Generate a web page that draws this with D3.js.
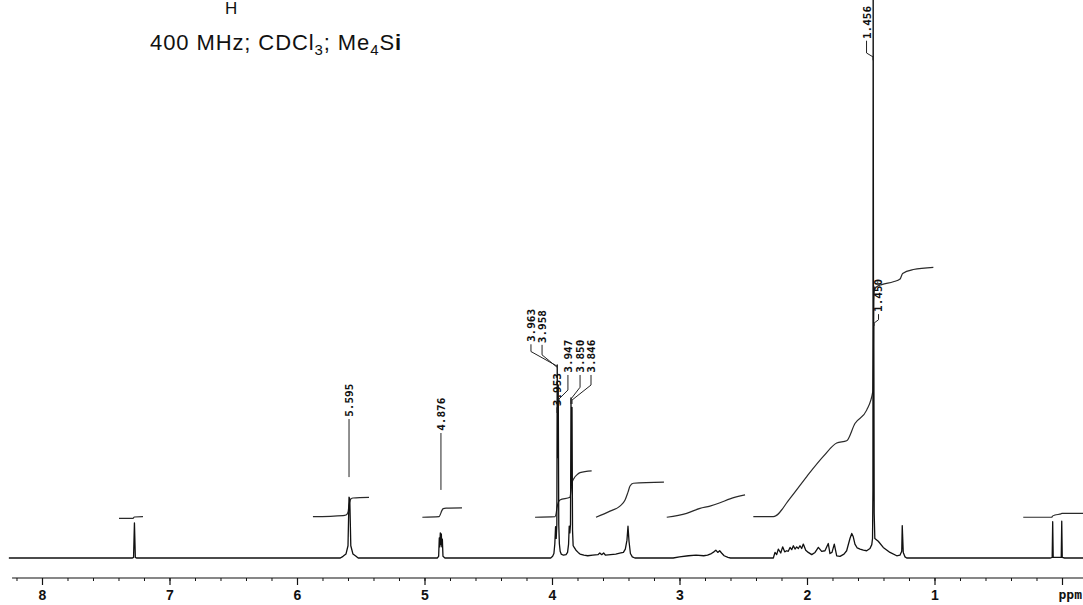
<!DOCTYPE html>
<html>
<head>
<meta charset="utf-8">
<script src="https://cdn.jsdelivr.net/npm/d3@7"></script>
<style>
  html, body { margin: 0; padding: 0; background: #fff; }
  svg { display: block; }
</style>
</head>
<body>
<svg id="chart" width="1083" height="605"></svg>
<script>
// spectrum, [ppm, intensity]
var spectrum = [
  [8.26,0],[7.29,0],[7.282,0.1],[7.275,6.3],[7.268,0.1],[7.26,0],
  [5.66,0],[5.639,0.3],[5.616,0.7],[5.600,2.2],[5.592,10.9],[5.586,10.6],[5.578,2.2],[5.561,0.7],[5.537,0.3],[5.52,0],
  [4.90,0],[4.889,0.3],[4.884,3.6],[4.880,2.0],[4.876,4.5],[4.872,2.4],[4.868,4.3],[4.864,2.0],[4.860,3.4],[4.855,0.3],[4.84,0],
  [4.01,0],[3.995,0.3],[3.985,0.8],[3.978,2.5],[3.972,5.6],[3.967,3.5],[3.962,6],[3.959,34.6],[3.955,18],[3.951,31],[3.947,6],
  [3.942,2.5],[3.936,1.2],[3.928,0.7],[3.91,0.5],[3.89,0.6],[3.878,1.0],[3.870,2.5],[3.865,5.7],[3.860,4.5],[3.855,6],
  [3.851,28.7],[3.847,13],[3.843,27],[3.839,5],[3.834,2.2],[3.826,1.9],[3.812,1.4],[3.795,1.0],[3.78,0.7],[3.75,0.5],[3.72,0.4],
  [3.68,0.5],[3.64,0.6],[3.625,0.9],[3.61,0.6],[3.595,0.9],[3.58,0.5],[3.54,0.6],[3.50,0.7],[3.46,0.9],[3.44,1.0],
  [3.425,1.6],[3.412,3.2],[3.404,5.7],[3.396,3.0],[3.385,0.8],[3.37,0.2],[3.35,0],
  [3.05,0],[3.0,0.2],[2.93,0.4],[2.87,0.5],[2.81,0.4],[2.78,0.5],[2.75,0.8],[2.73,1.1],[2.715,1.4],[2.70,1.0],[2.685,1.3],
  [2.67,0.9],[2.65,0.4],[2.62,0.1],[2.60,0],
  [2.264,0],[2.251,1.0],[2.238,0.6],[2.225,1.6],[2.206,0.9],[2.191,2.0],[2.175,1.1],[2.159,1.3],[2.147,1.2],[2.133,1.9],
  [2.120,1.5],[2.107,2.2],[2.094,1.6],[2.081,2.0],[2.068,1.7],[2.055,2.2],[2.042,1.7],[2.029,2.5],[2.010,1.4],[1.990,1.0],
  [1.963,0.6],[1.937,1.0],[1.911,1.9],[1.885,1.2],[1.859,1.3],[1.833,2.6],[1.820,0.8],[1.804,1.0],[1.786,2.5],[1.767,0.4],
  [1.741,0.3],[1.710,0.7],[1.689,1.3],[1.663,3.5],[1.649,4.4],[1.637,3.8],[1.624,2.5],[1.606,1.8],[1.584,1.6],[1.558,1.4],
  [1.532,1.3],[1.506,1.7],[1.492,2.4],[1.486,3.5],[1.483,12],[1.481,110],[1.478,30],[1.476,42],[1.473,8],[1.468,3.5],
  [1.441,3.0],[1.402,1.9],[1.349,1.0],[1.296,0.4],[1.271,0.5],[1.257,1.2],[1.253,5.8],[1.245,1.0],[1.231,0.2],[1.218,0],
  [0.09,0],[0.077,0.1],[0.073,6.5],[0.069,0.1],[0.006,0.1],[0.002,6.6],[-0.002,0.1],[-0.02,0],[-0.17,0]
];

// integral traces, [ppm, level]
var integralChcl3 = [[7.396,7.1],[7.286,7.1],[7.276,7.35],[7.208,7.4]];
var integral559 = [[5.875,7.4],[5.639,7.6],[5.616,7.7],[5.600,8.2],[5.592,9.5],[5.584,10.3],[5.576,10.6],[5.561,10.75],[5.435,10.85]];
var integral487 = [[5.017,7.3],[4.886,7.4],[4.876,7.8],[4.866,8.4],[4.853,8.85],[4.831,8.95],[4.706,9.0]];
var integral390 = [[4.133,7.3],[3.976,7.4],[3.968,7.9],[3.961,9.0],[3.950,10.0],[3.938,10.4],[3.859,10.9],[3.851,12.0],
  [3.843,13.4],[3.827,14.3],[3.805,14.9],[3.780,15.3],[3.689,15.6]];
var integral340 = [[3.655,7.3],[3.545,8.4],[3.467,9.3],[3.427,10.4],[3.404,11.8],[3.388,12.9],[3.362,13.4],[3.122,13.6]];
var integral270 = [[3.100,7.3],[2.944,8.0],[2.839,8.9],[2.761,9.3],[2.682,9.9],[2.604,10.6],[2.486,11.3]];
var integral145 = [[2.421,7.4],[2.264,7.4],[2.133,10.7],[2.002,14.6],[1.872,18.2],[1.767,20.6],[1.689,21.0],[1.624,24.1],
  [1.532,26.5],[1.484,29.8],[1.480,36],[1.476,46],[1.470,48.2],[1.453,48.6],[1.414,49.0],[1.323,49.5],[1.270,50.0],
  [1.250,51.0],[1.166,51.7],[1.009,52.1]];
var integralTms = [[0.304,7.3],[0.081,7.3],[0.074,7.5],[0.055,7.7],[0.008,7.9],[0.002,8.0],[-0.165,8.0]];

// peak labels: first point is the foot of the rotated text, the rest is the leader
var peakLabels = [
  { text: "5.595", path: [[5.592,25.3],[5.592,24.9],[5.592,14.5]] },
  { text: "4.876", path: [[4.871,22.8],[4.871,22.4],[4.871,12.2]] },
  { text: "3.963", path: [[4.165,38.7],[4.165,38.3],[4.165,37.0],[3.961,34.4]] },
  { text: "3.958", path: [[4.078,38.5],[4.078,38.2],[4.078,36.4],[3.961,34.2]] },
  { text: "3.953", path: [[3.961,27.2],[3.961,27.0],[3.961,26.0]] },
  { text: "3.947", path: [[3.875,33.2],[3.875,32.8],[3.875,30.1],[3.945,28.5],[3.945,27.6]] },
  { text: "3.850", path: [[3.780,33.2],[3.780,32.8],[3.780,30.6],[3.851,28.5],[3.851,27.6]] },
  { text: "3.846", path: [[3.694,33.2],[3.694,32.8],[3.694,31.0],[3.843,28.3],[3.843,27.6]] },
  { text: "1.456", path: [[1.533,93.0],[1.533,92.7],[1.533,90.5],[1.482,89.8],[1.482,89.2]] },
  { text: "1.450", path: [[1.439,44.1],[1.439,43.7],[1.439,42.7],[1.474,42.1],[1.474,41.6]] }
];

var majorTicks = [8, 7, 6, 5, 4, 3, 2, 1, 0];
var tickLabels = ["8", "7", "6", "5", "4", "3", "2", "1", "ppm"];
var minorTicks = d3.range(41).map(function (i) { return +(8.2 - i * 0.2).toFixed(1); });

var svg = d3.select("#chart");

var x = d3.scaleLinear().domain([8.32941, -0.16471]).range([0, 1083]);
var y = d3.scaleLinear().domain([0, 100]).range([558, 0]);

var line = d3.line()
  .x(function (d) { return x(d[0]); })
  .y(function (d) { return y(d[1]); });

// title
var title = svg.append("g")
  .style("font-family", "'Liberation Sans', Arial, sans-serif")
  .attr("fill", "#111");

title.append("text")
  .attr("x", 225).attr("y", 14)
  .style("font-size", "17px")
  .text("H");

var sub = title.append("text")
  .attr("x", 150).attr("y", 50)
  .style("font-size", "22px")
  .style("letter-spacing", "0.9px");
sub.append("tspan").text("400 MHz; CDCl");
sub.append("tspan").attr("dy", 5).style("font-size", "15px").text("3");
sub.append("tspan").attr("dy", -5).text("; Me");
sub.append("tspan").attr("dy", 5).style("font-size", "15px").text("4");
sub.append("tspan").attr("dy", -5).text("S");
sub.append("tspan").style("font-weight", "bold").text("i");

// integrals
var integrals = [integralChcl3, integral559, integral487, integral390, integral340, integral270, integral145, integralTms];
svg.append("g").selectAll("path")
  .data(integrals)
  .enter().append("path")
  .attr("d", line.curve(d3.curveMonotoneX))
  .attr("fill", "none")
  .attr("stroke", "#2a2a2a")
  .attr("stroke-width", 1.2);

// spectrum
svg.append("path")
  .datum(spectrum)
  .attr("d", line.curve(d3.curveLinear))
  .attr("fill", "none")
  .attr("stroke", "#111")
  .attr("stroke-width", 1.3)
  .attr("stroke-linejoin", "round");

// peak labels and leaders
var labelG = svg.append("g");
labelG.selectAll("path")
  .data(peakLabels)
  .enter().append("path")
  .attr("d", function (d) { return line.curve(d3.curveLinear)(d.path.slice(1)); })
  .attr("fill", "none")
  .attr("stroke", "#222")
  .attr("stroke-width", 1);

labelG.selectAll("text")
  .data(peakLabels)
  .enter().append("text")
  .attr("transform", function (d) {
    return "translate(" + x(d.path[0][0]) + "," + y(d.path[0][1]) + ") rotate(-90)";
  })
  .attr("dy", "0.36em")
  .style("font-family", "'DejaVu Sans Mono', monospace")
  .style("font-weight", "bold")
  .style("font-size", "11px")
  .attr("fill", "#111")
  .text(function (d) { return d.text; });

// ppm axis
var axisY = 578;
svg.append("line")
  .attr("x1", x(8.235)).attr("x2", 1083)
  .attr("y1", axisY).attr("y2", axisY)
  .attr("stroke", "#111").attr("stroke-width", 1.2);

svg.append("g")
  .attr("transform", "translate(0," + axisY + ")")
  .call(d3.axisBottom(x).tickValues(minorTicks).tickSize(3).tickSizeOuter(0).tickFormat(""))
  .call(function (g) { g.select(".domain").remove(); })
  .call(function (g) { g.selectAll("line").attr("stroke", "#111"); });

var major = svg.append("g")
  .attr("transform", "translate(0," + axisY + ")")
  .call(d3.axisBottom(x).tickValues(majorTicks).tickSize(7).tickSizeOuter(0).tickPadding(5)
    .tickFormat(function (d, i) { return tickLabels[i]; }))
  .call(function (g) { g.select(".domain").remove(); });

major.selectAll("line").attr("stroke", "#111").attr("stroke-width", 1.2);
major.selectAll("text")
  .style("font-family", "'Liberation Sans', Arial, sans-serif")
  .style("font-weight", "bold")
  .style("font-size", "14px")
  .attr("fill", "#111");
major.selectAll("text")
  .filter(function (d) { return d === 0; })
  .attr("text-anchor", "start")
  .attr("x", -4)
  .style("font-family", "'DejaVu Sans Mono', monospace")
  .style("font-size", "13px");
</script>
</body>
</html>
